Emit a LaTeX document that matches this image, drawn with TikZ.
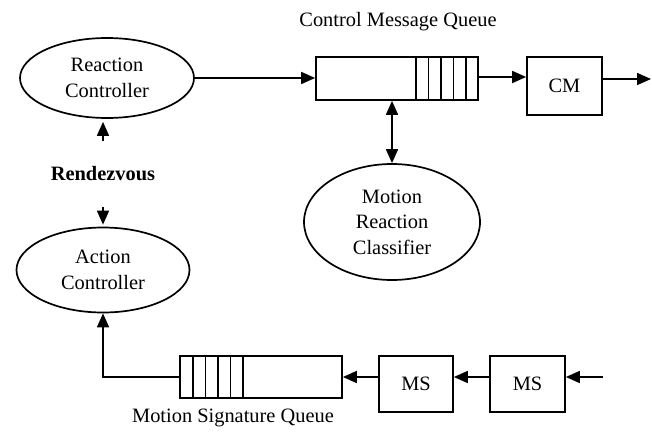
\documentclass[tikz,border=0pt]{standalone}
\usepackage{fontspec}
\setmainfont{Liberation Serif}
\usetikzlibrary{shapes.geometric,arrows.meta}

\begin{document}
\begin{tikzpicture}[x=1pt,y=-1pt,line width=1.7pt,
  lbl/.style={font=\fontsize{20.4}{25.5}\selectfont, align=center, inner sep=0pt},
  ctrl/.style={lbl, draw, ellipse, inner sep=0pt},
  unit/.style={lbl, draw, rectangle},
  queue/.style={draw, rectangle, inner sep=0pt, minimum width=162pt, minimum height=43pt},
  slot/.style={line width=1.2pt},
  arr/.style={-{Triangle[length=14pt,width=12pt]}},
  biarr/.style={{Triangle[length=14pt,width=12pt]}-{Triangle[length=14pt,width=12pt]}}
]
\useasboundingbox (0,0) rectangle (652,433);

% controllers and classifier
\node[ctrl, minimum width=174pt, minimum height=80pt] (rc) at (107,78) {Reaction\\Controller};
\node[ctrl, minimum width=173pt, minimum height=85pt] (ac) at (103,270) {Action\\Controller};
\node[ctrl, minimum width=176pt, minimum height=116pt] (mrc) at (392,222) {Motion\\Reaction\\Classifier};
\node[lbl, font=\fontsize{20.4}{25.5}\selectfont\bfseries, minimum height=65pt] (rdv) at (103,174) {Rendezvous};

% control message queue
\node[queue] (cmq) at (397,78.5) {};
\foreach \x in {416,428.5,441,453.5,466}
  \draw[slot] (\x,57) -- (\x,100);
\node[lbl] (cmqlbl) at (398,22) {Control Message Queue};
\node[unit, minimum width=75pt, minimum height=58pt] (cm) at (564.5,86) {CM};
\coordinate (cmout) at (651,79);

% motion signature queue
\node[queue, minimum height=42pt] (msq) at (261,377) {};
\foreach \x in {193,205.5,218,230.5,243}
  \draw[slot] (\x,356) -- (\x,398);
\node[lbl] (msqlbl) at (233,418) {Motion Signature Queue};
\node[unit, minimum width=74pt, minimum height=56pt] (ms1) at (416,384) {MS};
\node[unit, minimum width=75pt, minimum height=56pt] (ms2) at (527.5,384) {MS};
\coordinate (msin) at (603,377);

% connectors
\draw[arr] (rc.east) -- (rc.east -| cmq.west);
\draw[arr] (cmq.east |- 0,77) -- (cm.west |- 0,77);
\draw[arr] (cm.east |- cmout) -- (cmout);
\draw[biarr] (cmq.south -| mrc.north) -- (mrc.north);
\draw[arr] (rdv.north) -- ([yshift=-3pt]rdv.north |- rc.south);
\draw[arr] (rdv.south) -- ([yshift=2pt]rdv.south |- ac.north);
\draw[arr] (msq.west) -| (ac.south);
\draw[arr] (ms1.west |- msq.east) -- (msq.east);
\draw[arr] (ms2.west |- msq.east) -- (ms1.east |- msq.east);
\draw[arr] (msin) -- (ms2.east |- msin);
\end{tikzpicture}
\end{document}
